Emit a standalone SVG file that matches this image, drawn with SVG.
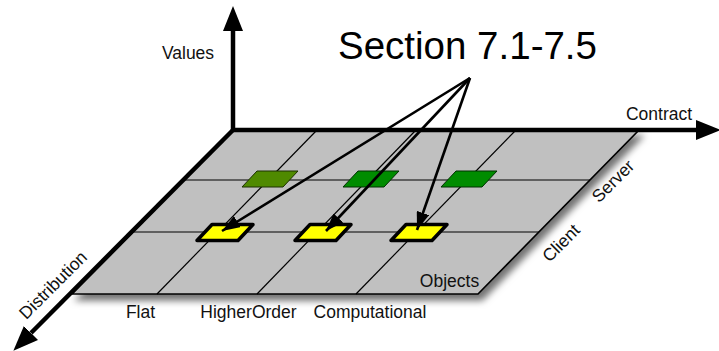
<svg xmlns="http://www.w3.org/2000/svg" width="719" height="351" viewBox="0 0 719 351">
  <style>
    text { font-family: "Liberation Sans", Arial, Helvetica, sans-serif; fill: #111; }
    .lbl { font-size: 17.5px; }
    .title { font-size: 38.5px; fill: #000; }
    .grid { stroke: #000; stroke-width: 1.2; fill: none; }
    .axis { stroke: #000; stroke-width: 4.5; fill: none; }
    .ptr { stroke: #000; stroke-width: 2.6; fill: none; }
    .cell-on { fill: #ffff00; stroke: #000; stroke-width: 3.5; stroke-linejoin: round; }
    .cell-a { fill: #4f8a00; stroke: #1c3000; stroke-width: 1; }
    .cell-b { fill: #008c00; stroke: #003000; stroke-width: 1; }
  </style>
  <defs>
    <filter id="shadow" x="-10%" y="-10%" width="125%" height="130%">
      <feDropShadow dx="4" dy="6" stdDeviation="3.5" flood-color="#000" flood-opacity="0.55"/>
    </filter>
    <marker id="axisHead" markerUnits="userSpaceOnUse" markerWidth="25" markerHeight="20" viewBox="0 0 25 20" refX="0" refY="10" orient="auto">
      <path d="M0,0 L25,10 L0,20 Z" fill="#000"/>
    </marker>
    <marker id="ptrHead" markerUnits="userSpaceOnUse" markerWidth="18" markerHeight="13" viewBox="0 0 18 13" refX="18" refY="6.5" orient="auto">
      <path d="M0,0 L18,6.5 L0,13 Z" fill="#000"/>
    </marker>
    <path id="cell" d="M-13,-8 L28,-8 L13,8 L-28,8 Z"/>
  </defs>

  <!-- ground plane -->
  <g id="plane">
    <polygon points="233,130 639,130 478,294 72,294" fill="#c0c0c0" stroke="#000" stroke-width="1.6" filter="url(#shadow)"/>
    <g class="grid">
      <line x1="184" y1="180" x2="590" y2="180"/>
      <line x1="133" y1="232" x2="539" y2="232"/>
      <line x1="317" y1="130" x2="157" y2="294"/>
      <line x1="416" y1="130" x2="257" y2="294"/>
      <line x1="516" y1="130" x2="356" y2="294"/>
    </g>
  </g>

  <!-- upper row cells -->
  <g id="cell-server-flat"><use href="#cell" class="cell-a" x="270" y="179"/></g>
  <g id="cell-server-higher"><use href="#cell" class="cell-b" x="371" y="179"/></g>
  <g id="cell-server-comp"><use href="#cell" class="cell-b" x="469" y="179"/></g>

  <!-- highlighted cells -->
  <g id="cell-client-flat"><use href="#cell" class="cell-on" x="225" y="232.5"/></g>
  <g id="cell-client-higher"><use href="#cell" class="cell-on" x="323" y="232.5"/></g>
  <g id="cell-client-comp"><use href="#cell" class="cell-on" x="419" y="232.5"/></g>

  <!-- pointers from the section title -->
  <g id="connectors">
    <line class="ptr" x1="470" y1="78" x2="222" y2="231" marker-end="url(#ptrHead)"/>
    <line class="ptr" x1="470" y1="78" x2="326" y2="231" marker-end="url(#ptrHead)"/>
    <line class="ptr" x1="470" y1="78" x2="417" y2="230" marker-end="url(#ptrHead)"/>
  </g>

  <!-- axes -->
  <g id="axes">
    <line class="axis" x1="233" y1="132" x2="233" y2="31" marker-end="url(#axisHead)"/>
    <line class="axis" x1="231" y1="130" x2="696" y2="130" marker-end="url(#axisHead)"/>
    <line class="axis" x1="233" y1="130" x2="31" y2="333" marker-end="url(#axisHead)"/>
  </g>

  <!-- labels -->
  <g id="labels">
    <text class="title" x="338" y="59">Section 7.1-7.5</text>
    <text class="lbl" x="188" y="59" text-anchor="middle">Values</text>
    <text class="lbl" x="659" y="120" text-anchor="middle">Contract</text>
    <text class="lbl" x="140.5" y="318" text-anchor="middle">Flat</text>
    <text class="lbl" x="248.5" y="318" text-anchor="middle">HigherOrder</text>
    <text class="lbl" x="370" y="318" text-anchor="middle">Computational</text>
    <text class="lbl" x="449.5" y="287" text-anchor="middle">Objects</text>
    <text class="lbl" transform="translate(613,181) rotate(-45)" y="6" text-anchor="middle">Server</text>
    <text class="lbl" transform="translate(561,243) rotate(-45)" y="6" text-anchor="middle">Client</text>
    <text class="lbl" transform="translate(53,285) rotate(-45)" y="6" text-anchor="middle">Distribution</text>
  </g>
</svg>
